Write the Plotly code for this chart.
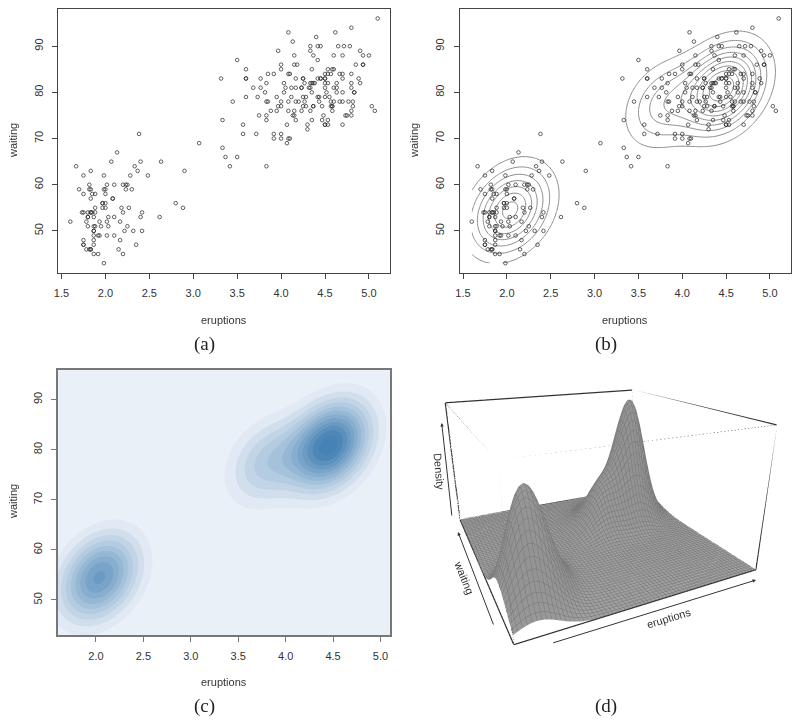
"""Old Faithful: scatter, contour, image and perspective views of the density."""
import numpy as np
import plotly.graph_objects as go

W, H = 792, 717

eruptions = [
    3.600, 1.800, 3.333, 2.283, 4.533, 2.883, 4.700, 3.600, 1.950, 4.350, 1.833, 3.917, 4.200, 1.750, 4.700, 2.167,
    1.750, 4.800, 1.600, 4.250, 1.800, 1.750, 3.450, 3.067, 4.533, 3.600, 1.967, 4.083, 3.850, 4.433, 4.300, 4.467,
    3.367, 4.033, 3.833, 2.017, 1.867, 4.833, 1.833, 4.783, 4.350, 1.883, 4.567, 1.750, 4.533, 3.317, 3.833, 2.100,
    4.633, 2.000, 4.800, 4.716, 1.833, 4.833, 1.733, 4.883, 3.717, 1.667, 4.567, 4.317, 2.233, 4.500, 1.750, 4.800,
    1.817, 4.400, 4.167, 4.700, 2.067, 4.700, 4.033, 1.967, 4.500, 4.000, 1.983, 5.067, 2.017, 4.567, 3.883, 3.600,
    4.133, 4.333, 4.100, 2.633, 4.067, 4.933, 3.950, 4.517, 2.167, 4.000, 2.200, 4.333, 1.867, 4.817, 1.833, 4.300,
    4.667, 3.750, 1.867, 4.900, 2.483, 4.367, 2.100, 4.500, 4.050, 1.867, 4.700, 1.783, 4.850, 3.683, 4.733, 2.300,
    4.900, 4.417, 1.700, 4.633, 2.317, 4.600, 1.817, 4.417, 2.617, 4.067, 4.250, 1.967, 4.600, 3.767, 1.917, 4.500,
    2.267, 4.650, 1.867, 4.167, 2.800, 4.333, 1.833, 4.383, 1.883, 4.933, 2.033, 3.733, 4.233, 2.233, 4.533, 4.817,
    4.333, 1.983, 4.633, 2.017, 5.100, 1.800, 5.033, 4.000, 2.400, 4.600, 3.567, 4.000, 4.500, 4.083, 1.800, 3.967,
    2.200, 4.150, 2.000, 3.833, 3.500, 4.583, 2.367, 5.000, 1.933, 4.617, 1.917, 2.083, 4.583, 3.333, 4.167, 4.333,
    4.500, 2.417, 4.000, 4.167, 1.883, 4.583, 4.250, 3.767, 2.033, 4.433, 4.083, 1.833, 4.417, 2.183, 4.800, 1.833,
    4.800, 4.100, 3.966, 4.233, 3.500, 4.366, 2.250, 4.667, 2.100, 4.350, 4.133, 1.867, 4.600, 1.783, 4.367, 3.850,
    1.933, 4.500, 2.383, 4.700, 1.867, 3.833, 3.417, 4.233, 2.400, 4.800, 2.000, 4.150, 1.867, 4.267, 1.750, 4.483,
    4.000, 4.117, 4.083, 4.267, 3.917, 4.550, 4.083, 2.417, 4.183, 2.217, 4.450, 1.883, 1.850, 4.283, 3.950, 2.333,
    4.150, 2.350, 4.933, 2.900, 4.583, 3.833, 2.083, 4.367, 2.133, 4.350, 2.200, 4.450, 3.567, 4.500, 4.150, 3.817,
    3.917, 4.450, 2.000, 4.283, 4.767, 4.533, 1.850, 4.250, 1.983, 2.250, 4.750, 4.117, 2.150, 4.417, 1.817, 4.467,
]
waiting = [
    79, 54, 74, 62, 85, 55, 88, 85, 51, 85, 54, 84, 78, 47, 83, 52, 62, 84, 52, 79, 51, 47, 78, 69, 74, 83, 55, 76,
    78, 79, 73, 77, 66, 80, 74, 52, 48, 80, 59, 90, 80, 58, 84, 58, 73, 83, 64, 53, 82, 59, 75, 90, 54, 80, 54, 83,
    71, 64, 77, 81, 59, 84, 48, 82, 60, 92, 78, 78, 65, 73, 82, 56, 79, 71, 62, 76, 60, 78, 76, 83, 75, 82, 70, 65,
    73, 88, 76, 80, 48, 86, 60, 90, 50, 78, 63, 72, 84, 75, 51, 82, 62, 88, 49, 83, 81, 47, 84, 52, 86, 81, 75, 59,
    89, 79, 59, 81, 50, 85, 59, 87, 53, 69, 77, 56, 88, 81, 45, 82, 55, 90, 45, 83, 56, 89, 46, 82, 51, 86, 53, 79,
    81, 60, 82, 77, 76, 59, 80, 49, 96, 53, 77, 77, 65, 81, 71, 70, 81, 93, 53, 89, 45, 86, 58, 78, 66, 76, 63, 88,
    52, 93, 49, 57, 77, 68, 81, 81, 73, 50, 85, 74, 55, 77, 83, 83, 51, 78, 84, 46, 83, 55, 81, 57, 76, 84, 77, 81,
    87, 77, 51, 78, 60, 82, 91, 53, 78, 46, 77, 84, 49, 83, 71, 80, 49, 75, 64, 76, 53, 94, 55, 76, 50, 82, 54, 75,
    78, 79, 78, 78, 70, 79, 70, 54, 86, 50, 90, 54, 54, 77, 79, 64, 75, 47, 86, 63, 85, 82, 57, 82, 67, 74, 54, 83,
    73, 73, 88, 80, 71, 83, 56, 79, 78, 84, 58, 83, 43, 60, 75, 81, 46, 90, 46, 74,
]
assert len(eruptions) == len(waiting) == 272

x_ticks = [1.5, 2.0, 2.5, 3.0, 3.5, 4.0, 4.5, 5.0]
x_ticks_c = [2.0, 2.5, 3.0, 3.5, 4.0, 4.5, 5.0]
y_ticks = [50, 60, 70, 80, 90]

FONT = "Liberation Sans"
TEXT = "#333333"


def fit_mixture(x, y, n_iter=200):
    """EM for a 3 component normal mixture with one shared covariance."""
    pts = np.column_stack([x, y])
    labels = np.where(pts[:, 0] < 3, 0, np.where(pts[:, 0] > 4.2, 1, 2))
    resp = np.eye(3)[labels]
    for _ in range(n_iter):
        nk = resp.sum(axis=0)
        means = resp.T @ pts / nk[:, None]
        cov = sum((resp[:, k, None] * (pts - means[k])).T @ (pts - means[k]) for k in range(3)) / len(pts)
        inv = np.linalg.inv(cov)
        d = np.stack([np.einsum("ij,jk,ik->i", pts - m, inv, pts - m) for m in means], axis=1)
        like = nk / len(pts) * np.exp(-0.5 * d)
        resp = like / like.sum(axis=1, keepdims=True)
    return nk / len(pts), means, cov


def mixture_grid(gx, gy, pro, means, cov):
    inv = np.linalg.inv(cov)
    norm = 2 * np.pi * np.sqrt(np.linalg.det(cov))
    xx, yy = np.meshgrid(gx, gy)
    g = np.stack([xx, yy], axis=-1)
    z = 0
    for p, m in zip(pro, means):
        diff = g - m
        z = z + p * np.exp(-0.5 * np.einsum("...i,ij,...j->...", diff, inv, diff)) / norm
    return z


# page pixels to paper coordinates, the page body has an 8px margin
def px_x(px):
    return (px - 8) / W


def px_y(py):
    return 1 - (py - 8) / H


pro, means, cov = fit_mixture(eruptions, waiting)
x0, x1 = min(eruptions), max(eruptions)
y0, y1 = min(waiting), max(waiting)
grid_x = np.linspace(x0, x1, 150)
grid_y = np.linspace(y0, y1, 150)
dens = mixture_grid(grid_x, grid_y, pro, means, cov)
zmax = float(dens.max())

mesh_x = np.linspace(x0, x1, 64)
mesh_y = np.linspace(y0, y1, 64)
mesh = mixture_grid(mesh_x, mesh_y, pro, means, cov)
zmax3 = float(mesh.max())

fig = go.Figure()
point_style = dict(mode="markers", showlegend=False, hoverinfo="skip",
                   marker=dict(symbol="circle-open", size=3.6, color="#222222", line=dict(width=0.7, color="#222222")))

fig.add_trace(go.Scatter(x=eruptions, y=waiting, xaxis="x", yaxis="y", **point_style))
fig.add_trace(go.Contour(x=grid_x, y=grid_y, z=dens, xaxis="x2", yaxis="y2", showscale=False, hoverinfo="skip",
                         contours=dict(coloring="lines", start=zmax / 10, end=zmax, size=zmax / 10, showlabels=False),
                         colorscale=[[0, "#8c8c8c"], [1, "#8c8c8c"]], line=dict(width=1)))
fig.add_trace(go.Scatter(x=eruptions, y=waiting, xaxis="x2", yaxis="y2", **point_style))
band = zmax / 13
fig.add_trace(go.Contour(x=grid_x, y=grid_y, z=dens, xaxis="x3", yaxis="y3", showscale=False, hoverinfo="skip",
                         contours=dict(coloring="fill", start=zmax / 10, end=zmax, size=band),
                         colorscale=[[0, "#EAF0F8"], [0.08, "#DAE5F1"], [1, "#4682B4"]],
                         zmin=zmax / 10 - band, zmax=zmax, line=dict(width=0)))

# surface and the box round it
fig.add_trace(go.Surface(x=mesh_x, y=mesh_y, z=mesh, scene="scene", showscale=False, hoverinfo="skip",
                         colorscale=[[0, "#a0a0a0"], [1, "#a0a0a0"]],
                         lighting=dict(ambient=0.9, diffuse=0.1, specular=0, roughness=1, fresnel=0),
                         contours=dict(
                             x=dict(show=True, start=x0, end=x1, size=(x1 - x0) / 63, color="#777777", width=1),
                             y=dict(show=True, start=y0, end=y1, size=(y1 - y0) / 63, color="#777777", width=1))))

solid_edges = [
    ([x0, x1, x1, x0, x0], [y0, y0, y1, y1, y0], [0, 0, 0, 0, 0]),
    ([x0, x0], [y1, y1], [0, zmax3]),
    ([x1, x1], [y0, y0], [0, zmax3]),
    ([x1, x1], [y1, y1], [0, zmax3]),
    ([x0, x1, x1], [y1, y1, y0], [zmax3, zmax3, zmax3]),
]
for ex, ey, ez in solid_edges:
    fig.add_trace(go.Scatter3d(x=ex, y=ey, z=ez, mode="lines", line=dict(color="#333333", width=2.5),
                               showlegend=False, hoverinfo="skip"))
front_x = [x0, x0, x0, None, x0, x1]
front_y = [y0, y0, y1, None, y0, y0]
front_z = [0, zmax3, zmax3, None, zmax3, zmax3]
fig.add_trace(go.Scatter3d(x=front_x, y=front_y, z=front_z, mode="lines",
                           line=dict(color="#666666", width=1.5, dash="dot"), showlegend=False, hoverinfo="skip"))


def axis(domain, rng, ticks, line="#444444", lw=1, **kw):
    return dict(domain=domain, range=rng, tickmode="array", tickvals=ticks, ticks="outside", ticklen=5,
                tickcolor=line, tickwidth=1, showline=True, mirror=True, linecolor=line, linewidth=lw,
                showgrid=False, zeroline=False, tickfont=dict(family=FONT, size=11, color=TEXT),
                automargin=False, ticklabelstandoff=5, **kw)


xr = [1.46, 5.24]
yr = [40.88, 98.12]
fig.update_layout(
    width=W, height=H, margin=dict(l=0, r=0, t=0, b=0), paper_bgcolor="white", plot_bgcolor="white",
    showlegend=False,
    xaxis=axis([px_x(58), px_x(390)], xr, x_ticks, anchor="y", tickformat=".1f"),
    yaxis=axis([px_y(273), px_y(8.7)], yr, y_ticks, anchor="x", tickangle=-90),
    xaxis2=axis([px_x(459.5), px_x(791)], xr, x_ticks, anchor="y2", tickformat=".1f"),
    yaxis2=axis([px_y(273), px_y(8.7)], yr, y_ticks, anchor="x2", tickangle=-90),
    xaxis3=axis([px_x(58), px_x(390)], [x0, x1], x_ticks_c, "#777777", 1.5, anchor="y3", tickformat=".1f"),
    yaxis3=axis([px_y(635), px_y(369.5)], [y0, y1], y_ticks, "#777777", 1.5, anchor="x3", tickangle=-90),
    scene=dict(
        domain=dict(x=[px_x(404), px_x(800)], y=[px_y(664.5), px_y(309.5)]),
        xaxis=dict(visible=False, range=[x0, x1]),
        yaxis=dict(visible=False, range=[y0, y1]),
        zaxis=dict(visible=False, range=[0, zmax3]),
        aspectmode="manual", aspectratio=dict(x=1, y=1.034, z=0.595),
        camera=dict(eye=dict(x=-0.728, y=-1.603, z=0.620), center=dict(x=0.042, y=-0.032, z=-0.028),
                    up=dict(x=0, y=0, z=1), projection=dict(type="perspective")),
        bgcolor="rgba(0,0,0,0)",
    ),
)

for label, cx, cy in [("(a)", 204, 344), ("(b)", 606, 344), ("(c)", 204, 706), ("(d)", 606, 706)]:
    fig.add_annotation(text=label, x=px_x(cx), y=px_y(cy), xref="paper", yref="paper", showarrow=False,
                       xanchor="center", yanchor="middle",
                       font=dict(family="Liberation Serif", size=19, color="#222222"))

# axis titles, panel (d) ones follow the box edges
titles = [("eruptions", 224, 320, 0), ("waiting", 13, 141, -90), ("eruptions", 625, 320, 0), ("waiting", 414, 141, -90),
          ("eruptions", 224, 682, 0), ("waiting", 13, 502, -90),
          ("eruptions", 669, 618, -17), ("waiting", 464, 577, 68), ("Density", 439, 471, 85)]
for label, cx, cy, ang in titles:
    fig.add_annotation(text=label, x=px_x(cx), y=px_y(cy), xref="paper", yref="paper", showarrow=False, textangle=ang,
                       xanchor="center", yanchor="middle", font=dict(family=FONT, size=11, color=TEXT))

for sx, sy, ex, ey in [(551.7, 643.3, 756, 580), (494, 626, 458, 532), (452, 517, 441.7, 423)]:
    fig.add_annotation(text="", x=px_x(ex), y=px_y(ey), ax=sx - ex, ay=sy - ey, xref="paper", yref="paper",
                       axref="pixel", ayref="pixel", showarrow=True, arrowhead=2, arrowsize=0.7, arrowwidth=1,
                       arrowcolor="#333333")

fig.write_html("out.html")
